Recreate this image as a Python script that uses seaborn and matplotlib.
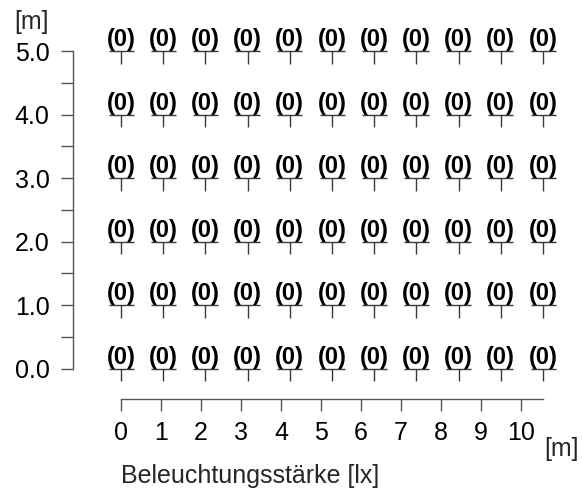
import matplotlib
matplotlib.use("Agg")
import matplotlib.pyplot as plt
from matplotlib.path import Path
from matplotlib.ticker import MultipleLocator
import seaborn as sns
import pandas as pd

# Measurement grid: x positions [m], y positions [m]
x_positions = [0.0, 1.055, 2.11, 3.165, 4.22, 5.275, 6.33, 7.385, 8.44, 9.495, 10.55]
y_positions = [0.0, 1.0, 2.0, 3.0, 4.0, 5.0]

# Illuminance [lx] per row (bottom to top), one value per x position
lux_row_0 = [0, 0, 0, 0, 0, 0, 0, 0, 0, 0, 0]
lux_row_1 = [0, 0, 0, 0, 0, 0, 0, 0, 0, 0, 0]
lux_row_2 = [0, 0, 0, 0, 0, 0, 0, 0, 0, 0, 0]
lux_row_3 = [0, 0, 0, 0, 0, 0, 0, 0, 0, 0, 0]
lux_row_4 = [0, 0, 0, 0, 0, 0, 0, 0, 0, 0, 0]
lux_row_5 = [0, 0, 0, 0, 0, 0, 0, 0, 0, 0, 0]
lux_rows = [lux_row_0, lux_row_1, lux_row_2, lux_row_3, lux_row_4, lux_row_5]

x_ticks = [0, 1, 2, 3, 4, 5, 6, 7, 8, 9, 10]
y_ticks = [0.0, 1.0, 2.0, 3.0, 4.0, 5.0]

records = []
for y, row in zip(y_positions, lux_rows):
    for x, v in zip(x_positions, row):
        records.append({"x": x, "y": y, "lux": v})
df = pd.DataFrame(records)

sns.set_theme(style="ticks")
plt.rcParams["font.family"] = ["Liberation Sans", "DejaVu Sans"]

W, H = 582, 493
fig = plt.figure(figsize=(W / 100, H / 100), dpi=100)

# axes frame in pixels
left_px, right_px, bottom_px, top_px = 73, 562, 399, 22
ax = fig.add_axes([left_px / W, 1 - bottom_px / H,
                   (right_px - left_px) / W, (bottom_px - top_px) / H])

px_per_x = 40.0
px_per_y = 63.54
x0_px, y0_px = 121, 368.7
ax.set_xlim(-(x0_px - left_px) / px_per_x, (right_px - x0_px) / px_per_x)
ax.set_ylim(-(bottom_px - y0_px) / px_per_y, (y0_px - top_px) / px_per_y)

# measurement point symbol: underline with a short stem
marker = Path([(-1, 0), (1, 0), (0, 0), (0, -1)],
              [Path.MOVETO, Path.LINETO, Path.MOVETO, Path.LINETO])
line_col = "#3a3a3a"
sns.scatterplot(data=df, x="x", y="y", marker=marker, s=18 ** 2,
                facecolor="none", edgecolor=line_col, linewidth=1.0,
                ax=ax, legend=False, zorder=3)

for _, r in df.iterrows():
    ax.text(r["x"], r["y"], f"({int(r['lux'])})", ha="center", va="bottom",
            fontsize=17, fontweight="bold", color="black", zorder=4)

FS = 18
ax.set_xticks(x_ticks)
ax.set_xticklabels([str(t) for t in x_ticks])
ax.set_yticks(y_ticks)
ax.set_yticklabels([f"{t:.1f}" for t in y_ticks])
ax.yaxis.set_minor_locator(MultipleLocator(0.5))

for s in ["top", "right"]:
    ax.spines[s].set_visible(False)
ax.spines["left"].set_bounds(0, 5)
ax.spines["bottom"].set_bounds(0, x_positions[-1])
for s in ["left", "bottom"]:
    ax.spines[s].set_color("#555555")
    ax.spines[s].set_linewidth(1.0)

ax.tick_params(axis="both", which="both", direction="out", length=8.5,
               width=1.0, color="#555555", labelsize=FS, labelcolor="black")
ax.tick_params(axis="x", pad=7)
ax.tick_params(axis="y", pad=8.5)
ax.set_xlabel("")
ax.set_ylabel("")
ax.set_facecolor("white")
ax.grid(False)

fig.text(31.5 / W, 1 - 28.5 / H, "[m]", ha="center", va="baseline", fontsize=FS)
fig.text(544 / W, 1 - 456 / H, "[m]", ha="left", va="baseline", fontsize=FS)
fig.text(121 / W, 1 - 483 / H, "Beleuchtungsstärke [lx]", ha="left",
         va="baseline", fontsize=FS)

fig.savefig("out.png", dpi=100, facecolor="white")
